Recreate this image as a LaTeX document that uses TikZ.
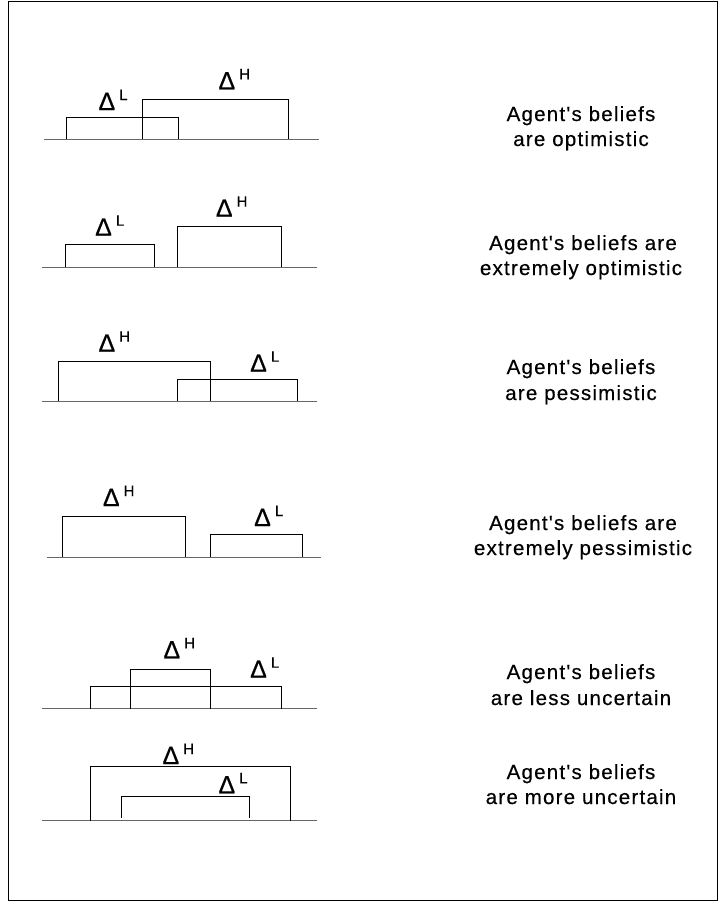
\documentclass[tikz,border=0pt]{standalone}
\usepackage{fontspec}
\setmainfont{Liberation Sans}
\newfontfamily\capfont[LetterSpace=6,FakeBold=0.4]{Liberation Sans}
\newfontfamily\deltafont[Scale=2.5,FakeBold=0.6]{Liberation Sans}
\newfontfamily\supfont[Scale=1.5,FakeBold=0.4]{Liberation Sans}
% Delta with a raised superscript letter
\newcommand{\deltasup}[1]{{\deltafont Δ}\hspace{4pt}\raisebox{10pt}{\supfont #1}}
\begin{document}
\begin{tikzpicture}[x=1pt,y=-1pt,
  bar/.style={draw=black,line width=0.9pt},
  axis/.style={draw=black!60,line width=1pt},
  frame/.style={draw=black,line width=1.4pt},
  dlabel/.style={anchor=base west,inner sep=0pt},
  caption/.style={anchor=base,inner sep=0pt,font=\capfont\fontsize{20.5}{20.5}\selectfont}]
\useasboundingbox (0,0) rectangle (719,903);
\draw[frame] (8.5,1.5) rectangle (717.5,900.5);

% --- optimistic
\draw[axis] (44,139.3) -- (319,139.3);
\draw[bar] (66.7,139.3) -- (66.7,117) -- (178.7,117) -- (178.7,139.3);
\draw[bar] (142.3,139.3) -- (142.3,99.3) -- (288.3,99.3) -- (288.3,139.3);
\node[dlabel] (l1) at (98.3,110) {\deltasup{L}};
\node[dlabel] (h1) at (218.3,89.3) {\deltasup{H}};
\node[caption] (c1a) at (581,121) {Agent's beliefs};
\node[caption] (c1b) at (581,146) {are optimistic};

% --- extremely optimistic
\draw[axis] (42.3,267) -- (317.3,267);
\draw[bar] (65.3,267) -- (65.3,244.3) -- (154.3,244.3) -- (154.3,267);
\draw[bar] (177.7,267) -- (177.7,226.7) -- (281.7,226.7) -- (281.7,267);
\node[dlabel] (l2) at (95,235.7) {\deltasup{L}};
\node[dlabel] (h2) at (215.7,216.7) {\deltasup{H}};
\node[caption] (c2a) at (583,250) {Agent's beliefs are};
\node[caption] (c2b) at (581,275) {extremely optimistic};

% --- pessimistic
\draw[axis] (42.3,401.3) -- (317.3,401.3);
\draw[bar] (58.3,401.3) -- (58.3,361.7) -- (210,361.7) -- (210,401.3);
\draw[bar] (177.3,401.3) -- (177.3,379.3) -- (297.3,379.3) -- (297.3,401.3);
\node[dlabel] (h3) at (98.3,351.7) {\deltasup{H}};
\node[dlabel] (l3) at (250,371.7) {\deltasup{L}};
\node[caption] (c3a) at (581,374) {Agent's beliefs};
\node[caption] (c3b) at (581,400) {are pessimistic};

% --- extremely pessimistic
\draw[axis] (46.7,557) -- (320.7,557);
\draw[bar] (62.3,557) -- (62.3,516.7) -- (185.7,516.7) -- (185.7,557);
\draw[bar] (210,557) -- (210,534.3) -- (302.3,534.3) -- (302.3,557);
\node[dlabel] (h4) at (102.7,506) {\deltasup{H}};
\node[dlabel] (l4) at (254,526) {\deltasup{L}};
\node[caption] (c4a) at (583,530) {Agent's beliefs are};
\node[caption] (c4b) at (583,555) {extremely pessimistic};

% --- less uncertain
\draw[axis] (42.3,708.7) -- (317.3,708.7);
\draw[bar] (90,708.7) -- (90,686.7) -- (281.7,686.7) -- (281.7,708.7);
\draw[bar] (130,708.7) -- (130,669) -- (210,669) -- (210,708.7);
\node[dlabel] (h5) at (163.3,658.3) {\deltasup{H}};
\node[dlabel] (l5) at (250,677.7) {\deltasup{L}};
\node[caption] (c5a) at (581,679) {Agent's beliefs};
\node[caption] (c5b) at (581,705) {are less uncertain};

% --- more uncertain
\draw[axis] (42.3,820.7) -- (317.3,820.7);
\draw[bar] (90,820.7) -- (90,766.7) -- (290,766.7) -- (290,820.7);
\draw[bar] (121.7,817.7) -- (121.7,796.7) -- (249.3,796.7) -- (249.3,817.7);
\node[dlabel] (h6) at (162.3,764) {\deltasup{H}};
\node[dlabel] (l6) at (218.3,793.3) {\deltasup{L}};
\node[caption] (c6a) at (581,779) {Agent's beliefs};
\node[caption] (c6b) at (581,804) {are more uncertain};
\end{tikzpicture}
\end{document}
